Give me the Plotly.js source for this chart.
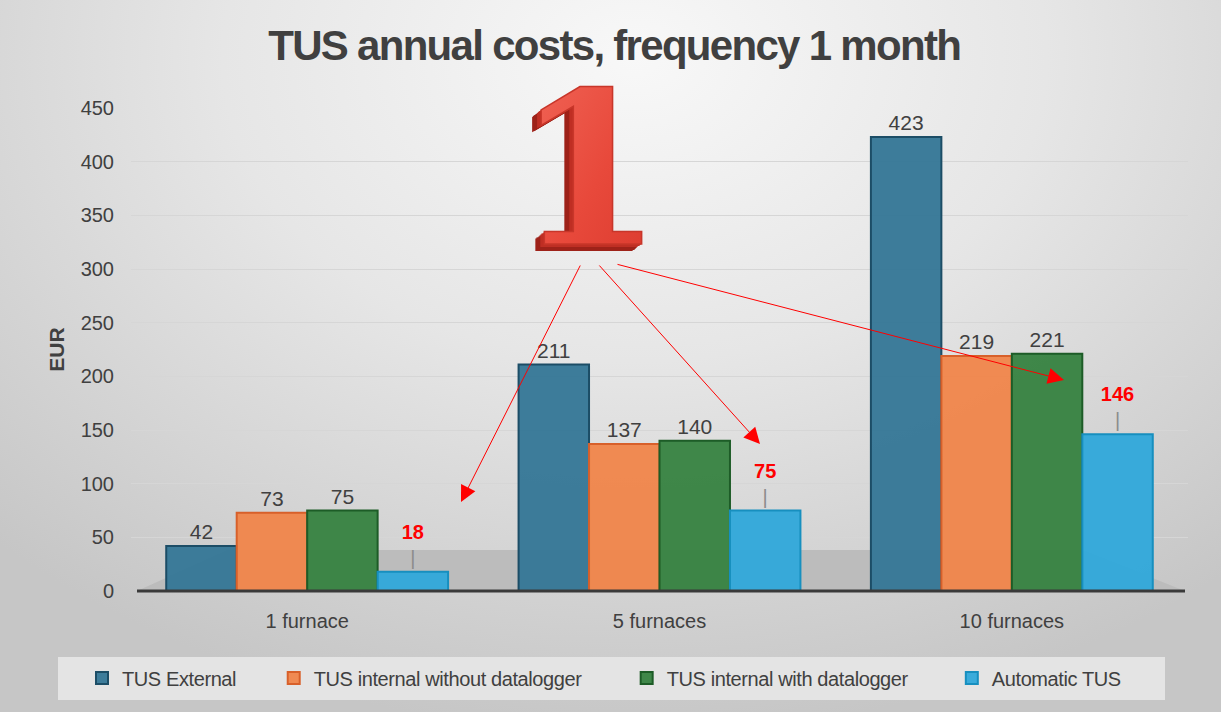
<!DOCTYPE html>
<html>
<head>
<meta charset="utf-8">
<script src="https://cdn.plot.ly/plotly-3.0.1.min.js"></script>
<style>
    html, body {
        margin: 0;
        padding: 0;
        width: 1221px;
        height: 712px;
        overflow: hidden;
        background: radial-gradient(ellipse 75% 95% at 52% 8%, #f8f8f8 0%, #e6e6e6 45%, #c6c6c6 100%);
    }
    #chart { width: 1221px; height: 712px; }
    /* the reference uses tightly kerned type */
    #chart .gtitle { letter-spacing: -1.7px; }
    #chart .legendtext { letter-spacing: -0.4px; }
</style>
</head>
<body>
<div id="chart"></div>
<script>
// Chart data
const categories = ['1 furnace', '5 furnaces', '10 furnaces'];
const seriesNames = ['TUS External', 'TUS internal without datalogger', 'TUS internal with datalogger', 'Automatic TUS'];
const tusExternal = [42, 211, 423];
const tusInternalNoLogger = [73, 137, 219];
const tusInternalLogger = [75, 140, 221];
const automaticTus = [18, 75, 146];
const yTicks = [0, 50, 100, 150, 200, 250, 300, 350, 400, 450];

const fillColors = ['rgba(52,118,150,0.95)', 'rgba(240,133,74,0.95)', 'rgba(54,130,64,0.95)', 'rgba(47,168,218,0.95)'];
const edgeColors = ['#1c4d66', '#d8602a', '#1d5c27', '#178fbf'];
const textGray = '#404040';

// Pixel helpers for decorations (plot area: x 131..1188, y 108..591)
const PLOT = { l: 131, r: 1188, t: 108, b: 591 };
const px = x => (x - PLOT.l) / (PLOT.r - PLOT.l);
const py = y => (PLOT.b - y) / (PLOT.b - PLOT.t);

// extra room after a legend entry (the reference spaces them wider)
const legendPad = '\u00a0'.repeat(5);

const allValues = [tusExternal, tusInternalNoLogger, tusInternalLogger, automaticTus];

const traces = allValues.map((vals, i) => {
    const isAuto = i === 3;
    // automatic TUS labels are red, with a small grey leader down to the bar
    const labels = isAuto
        ? vals.map(v => `${v}<br><span style="color:#8c8c8c;font-weight:normal">|</span>`)
        : vals.map(String);
    return {
        type: 'bar',
        name: isAuto ? seriesNames[i] : seriesNames[i] + legendPad,
        x: categories,
        y: vals,
        text: labels,
        textposition: 'outside',
        cliponaxis: false,
        textfont: {
            family: 'Liberation Sans, Arial, sans-serif',
            size: isAuto ? 20 : 21,
            color: isAuto ? '#ff0000' : textGray,
            weight: isAuto ? 'bold' : 'normal'
        },
        marker: {
            color: fillColors[i],
            line: { color: edgeColors[i], width: 2 }
        },
        hoverinfo: 'x+y'
    };
});

// Arrows from the big "1" to the automatic TUS labels
const arrows = [
    { tail: [581, 264], head: [461, 502] },
    { tail: [598, 264], head: [760, 444] },
    { tail: [616, 264], head: [1064, 380] }
].map(a => ({
    xref: 'paper', yref: 'paper',
    x: px(a.head[0]), y: py(a.head[1]),
    ax: a.tail[0] - a.head[0], ay: a.tail[1] - a.head[1],
    axref: 'pixel', ayref: 'pixel',
    text: '',
    showarrow: true,
    arrowhead: 2,
    arrowsize: 3.2,
    arrowwidth: 1,
    arrowcolor: '#ff0000'
}));

// The big red "1" is a picture in the original, so draw it as a small svg image
function bigOneSvg() {
    let extrude = '';
    for (let k = 9; k >= 1; k--) {
        extrude += `<text x="${74 - k}" y="${166 + k * 0.8}" fill="${k > 4 ? '#9e2219' : '#bf2f24'}">1</text>`;
    }
    const svg = `<svg xmlns="http://www.w3.org/2000/svg" width="135" height="180" viewBox="0 0 135 180">
        <defs>
            <linearGradient id="g" x1="0" y1="0" x2="1" y2="1">
                <stop offset="0" stop-color="#f26a5c"/>
                <stop offset="0.55" stop-color="#e8493b"/>
                <stop offset="1" stop-color="#d8372b"/>
            </linearGradient>
        </defs>
        <g font-family="DejaVu Serif, serif" font-weight="bold" font-size="212" text-anchor="middle">
            ${extrude}
            <text x="74" y="166" fill="url(#g)" stroke="#c8362a" stroke-width="1.5">1</text>
        </g>
    </svg>`;
    return 'data:image/svg+xml;charset=utf-8,' + encodeURIComponent(svg);
}

const layout = {
    width: 1221,
    height: 712,
    title: {
        text: 'TUS annual costs, frequency 1 month',
        x: 0.503,
        xanchor: 'center',
        y: 0.936,
        yanchor: 'middle',
        font: { family: 'Liberation Sans, Arial, sans-serif', size: 42, color: textGray, weight: 'bold' }
    },
    barmode: 'group',
    bargap: 0.2,
    bargroupgap: 0,
    xaxis: {
        type: 'category',
        showgrid: false,
        showline: false,
        zeroline: false,
        ticks: '',
        tickfont: { family: 'Liberation Sans, Arial, sans-serif', size: 20, color: textGray },
        ticklabelstandoff: 16
    },
    yaxis: {
        range: [0, 450],
        tickvals: yTicks,
        showgrid: true,
        gridcolor: '#d6d6d6',
        gridwidth: 1,
        zeroline: false,
        showline: false,
        ticks: '',
        ticklabelstandoff: 16,
        tickfont: { family: 'Liberation Sans, Arial, sans-serif', size: 20, color: textGray },
        title: {
            text: 'EUR',
            standoff: 10,
            font: { family: 'Liberation Sans, Arial, sans-serif', size: 21, color: textGray, weight: 'bold' }
        }
    },
    showlegend: true,
    legend: {
        orientation: 'h',
        x: px(82),
        xanchor: 'left',
        y: py(678),
        yanchor: 'middle',
        bgcolor: 'rgba(0,0,0,0)',
        font: { family: 'Liberation Sans, Arial, sans-serif', size: 20, color: textGray },
        itemwidth: 30,
        traceorder: 'normal'
    },
    images: [{
        source: bigOneSvg(),
        xref: 'paper', yref: 'paper',
        x: px(515), y: py(78),
        sizex: px(650) - px(515), sizey: py(78) - py(258),
        xanchor: 'left', yanchor: 'top',
        sizing: 'stretch',
        layer: 'above'
    }],
    shapes: [
        // legend panel
        {
            type: 'rect', xref: 'paper', yref: 'paper', layer: 'below',
            x0: px(58), x1: px(1165), y0: py(700), y1: py(657),
            fillcolor: '#e4e4e4', line: { width: 0 }
        },
        // floor
        {
            type: 'path', xref: 'paper', yref: 'paper', layer: 'below',
            path: `M ${px(137)} ${py(591)} L ${px(228)} ${py(550)} L ${px(1082)} ${py(550)} L ${px(1185)} ${py(591)} Z`,
            fillcolor: '#bcbcbc', line: { width: 0 }
        },
        // base line
        {
            type: 'line', xref: 'paper', yref: 'paper',
            x0: px(137), x1: px(1185), y0: 0, y1: 0,
            line: { color: '#3a3a3a', width: 3 }
        }
    ],
    annotations: arrows,
    margin: { l: PLOT.l, r: 1221 - PLOT.r, t: PLOT.t, b: 712 - PLOT.b, pad: 0 },
    plot_bgcolor: 'rgba(0,0,0,0)',
    paper_bgcolor: 'rgba(0,0,0,0)'
};

const config = { staticPlot: true, displayModeBar: false };

Plotly.newPlot('chart', traces, layout, config);
</script>
</body>
</html>
